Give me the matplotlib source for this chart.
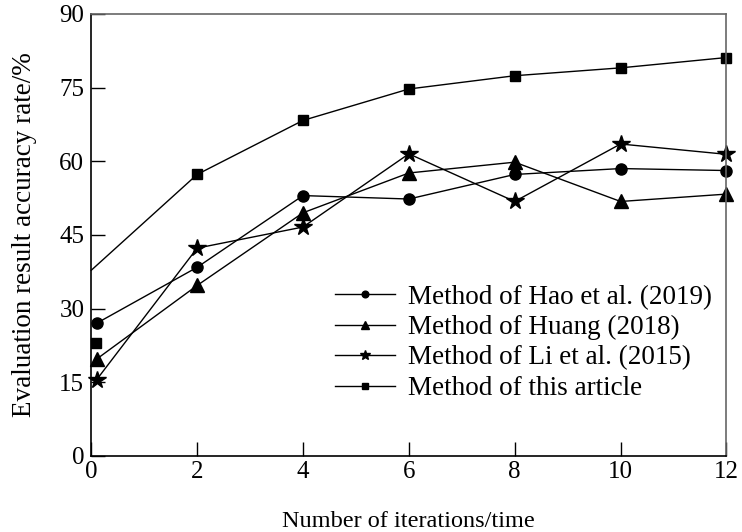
import matplotlib.pyplot as plt

plt.rcParams['font.family'] = ['Liberation Serif', 'DejaVu Serif']

# iterations
x = [0.1, 2, 4, 6, 8, 10, 12]

hao = [27.0, 38.4, 53.0, 52.3, 57.3, 58.5, 58.1]
huang = [19.7, 34.7, 49.5, 57.6, 59.8, 51.8, 53.3]
li = [15.5, 42.3, 46.6, 61.5, 51.8, 63.5, 61.4]

# this article: line starts at x=0 without marker, first marker sits apart
this_x = [0, 2, 4, 6, 8, 10, 12]
this_y = [37.8, 57.3, 68.3, 74.7, 77.4, 79.0, 81.1]
this_first_x = 0.08
this_first_y = 23.0

xticks = [0, 2, 4, 6, 8, 10, 12]
yticks = [0, 15, 30, 45, 60, 75, 90]

fig = plt.figure(figsize=(7.42, 5.32), dpi=100)
ax = fig.add_axes([0.123, 0.143, 0.856, 0.831])

lw = 1.0
ax.plot(x, hao, color='black', lw=lw, marker='o', ms=8, clip_on=False,
        label='Method of Hao et al. (2019)')
ax.plot(x, huang, color='black', lw=lw, marker='^', ms=10, clip_on=False,
        label='Method of Huang (2018)')
ax.plot(x, li, color='black', lw=lw, marker='*', ms=13, clip_on=False,
        label='Method of Li et al. (2015)')
ax.plot(this_x, this_y, color='black', lw=lw, marker='s', ms=7.5,
        markevery=list(range(1, 7)), clip_on=False,
        label='Method of this article')
ax.plot([this_first_x], [this_first_y], color='black', ls='none', marker='s',
        ms=7.5, clip_on=False)

ax.set_xlim(0, 12)
ax.set_ylim(0, 90)
ax.set_xticks(xticks)
ax.set_yticks(yticks)
ax.tick_params(direction='in', length=10, width=1, labelsize=18,
               top=False, right=False)
ax.tick_params(axis='x', pad=4)
ax.tick_params(axis='y', pad=5)
for s in ['top', 'right']:
    ax.spines[s].set_color('#666666')
for s in ax.spines.values():
    s.set_linewidth(1.2)

ax.set_xlabel('Number of iterations/time', fontsize=17.5, labelpad=20)
ax.set_ylabel('Evaluation result accuracy rate/%', fontsize=19.5, labelpad=16)

ax.legend(loc='upper left', bbox_to_anchor=(0.367, 0.412), frameon=False,
          fontsize=19.5, markerscale=0.6, handlelength=2.2, handletextpad=0.5,
          labelspacing=0.2, borderaxespad=0)

fig.savefig('out.png', dpi=100)
